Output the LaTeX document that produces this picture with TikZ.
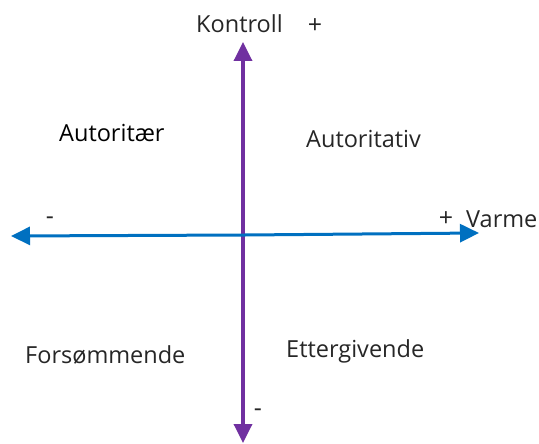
\documentclass[tikz,border=0pt]{standalone}
\usepackage{fontspec}
\setmainfont{Open Sans}
\usetikzlibrary{arrows.meta}
\definecolor{axpurple}{HTML}{7030A0}
\definecolor{axblue}{HTML}{0070C0}
\tikzset{
  lbl/.style={font=\fontsize{23.5}{28}\selectfont, text=black!85, inner sep=0pt, anchor=base west},
  sgn/.style={font=\fontsize{25}{28}\selectfont, text=black!85, inner sep=0pt, anchor=center},
  vaxis/.style={draw=axpurple, line width=3.5pt, -{Triangle[length=19pt,width=18pt]}},
  haxis/.style={draw=axblue, line width=3pt, -{Triangle[length=19pt,width=18pt]}}
}
\begin{document}
\begin{tikzpicture}[x=1pt,y=-1pt]
\useasboundingbox (0,0) rectangle (539,444);
\coordinate (vtop) at (243,42);
\coordinate (vbot) at (243,443);
\coordinate (vmid) at (243,236);
\coordinate (hleft) at (11,236);
\coordinate (hright) at (479,233);
\coordinate (hmid) at (245,235);
\draw[vaxis] (vmid) -- (vtop);
\draw[vaxis] (vmid) -- (vbot);
\draw[haxis] (hmid) -- (hleft);
\draw[haxis] (hmid) -- (hright);
\node[lbl] (kontroll) at (196,33) {Kontroll};
\node[sgn] (kplus) at (315,26) {+};
\node[sgn] (hminus) at (50,221) {-};
\node[sgn] (hplus) at (446,219) {+};
\node[lbl] (varme) at (466,227) {Varme};
\node[sgn] (vminus) at (258,413) {-};
\node[lbl, text=black] (autoritaer) at (59,142) {Autoritær};
\node[lbl] (autoritativ) at (306,147) {Autoritativ};
\node[lbl] (forsommende) at (25,363) {Forsømmende};
\node[lbl] (ettergivende) at (286,357) {Ettergivende};
\end{tikzpicture}
\end{document}
